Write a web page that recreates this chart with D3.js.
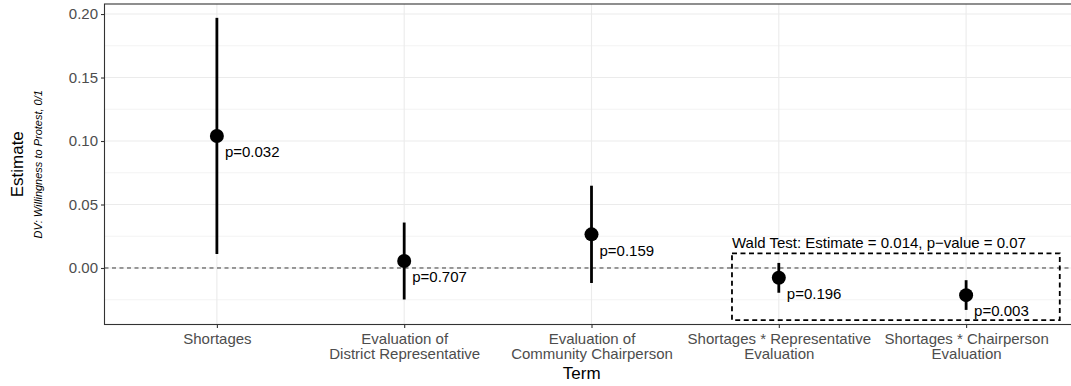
<!DOCTYPE html>
<html>
<head>
<meta charset="utf-8">
<script src="https://cdn.jsdelivr.net/npm/d3@7"></script>
<style>
  html, body { margin: 0; padding: 0; background: #fff; }
  svg { display: block; font-family: "Liberation Sans", Arial, sans-serif; }
</style>
</head>
<body>
<svg id="chart" width="1071" height="386"></svg>
<script>
// Coefficient estimates with 95% intervals, one row per model term
const terms = [
  "Shortages",
  "Evaluation of\nDistrict Representative",
  "Evaluation of\nCommunity Chairperson",
  "Shortages * Representative\nEvaluation",
  "Shortages * Chairperson\nEvaluation"
];
const estimates = [0.104, 0.0055, 0.0265, -0.0077, -0.0214];
const lower     = [0.011, -0.0248, -0.0118, -0.0195, -0.0330];
const upper     = [0.197, 0.0358, 0.0648, 0.0040, -0.0096];
const pLabels   = ["p=0.032", "p=0.707", "p=0.159", "p=0.196", "p=0.003"];

const yTicks = [0.00, 0.05, 0.10, 0.15, 0.20];
const yMinorTicks = [-0.025, 0.025, 0.075, 0.125, 0.175];

// Joint test of the two interaction terms
const waldLabel = "Wald Test: Estimate = 0.014, p\u2212value = 0.07";
const waldLabelY = 0.02;
const waldBoxY = [-0.041, 0.0115];

const svg = d3.select("#chart");
const panel = { left: 104.5, top: 4, right: 1078.5, bottom: 324.5 };

const x = d3.scalePoint()
  .domain(terms)
  .range([panel.left, panel.right])
  .padding(0.6);
const step = x.step();

const y = d3.scaleLinear()
  .domain([-0.0445, 0.2079])
  .range([panel.bottom, panel.top]);

const pw = panel.right - panel.left, ph = panel.bottom - panel.top;

// Grid
const grid = svg.append("g");
grid.selectAll("line.minor").data(yMinorTicks).join("line")
  .attr("x1", panel.left).attr("x2", panel.right)
  .attr("y1", d => y(d)).attr("y2", d => y(d))
  .attr("stroke", "#EBEBEB").attr("stroke-width", 0.6);
grid.selectAll("line.major").data(yTicks).join("line")
  .attr("x1", panel.left).attr("x2", panel.right)
  .attr("y1", d => y(d)).attr("y2", d => y(d))
  .attr("stroke", "#EBEBEB").attr("stroke-width", 1.1);
grid.selectAll("line.vx").data(terms).join("line")
  .attr("x1", d => x(d)).attr("x2", d => x(d))
  .attr("y1", panel.top).attr("y2", panel.bottom)
  .attr("stroke", "#EBEBEB").attr("stroke-width", 1.1);

// Reference line at zero
svg.append("line")
  .attr("x1", panel.left).attr("x2", panel.right)
  .attr("y1", y(0)).attr("y2", y(0))
  .attr("stroke", "#3a3a3a").attr("stroke-width", 1)
  .attr("stroke-dasharray", "4,3.5");

// Box around the interaction terms
const xBox0 = x(terms[3]) - 0.25 * step;
const xBox1 = x(terms[4]) + 0.5 * step;
svg.append("rect")
  .attr("x", xBox0).attr("y", y(waldBoxY[1]))
  .attr("width", xBox1 - xBox0)
  .attr("height", y(waldBoxY[0]) - y(waldBoxY[1]))
  .attr("fill", "none").attr("stroke", "#000")
  .attr("stroke-width", 1.8).attr("stroke-dasharray", "5,3.5");

svg.append("text")
  .attr("x", xBox0).attr("y", y(waldLabelY))
  .attr("dy", "0.35em")
  .attr("font-size", 15).attr("fill", "#000")
  .text(waldLabel);

// Intervals and points
const rows = terms.map((t, i) => ({ term: t, est: estimates[i], lo: lower[i], hi: upper[i], p: pLabels[i] }));

svg.append("g").selectAll("line").data(rows).join("line")
  .attr("x1", d => x(d.term)).attr("x2", d => x(d.term))
  .attr("y1", d => y(d.lo)).attr("y2", d => y(d.hi))
  .attr("stroke", "#000").attr("stroke-width", 2.8);

svg.append("g").selectAll("circle").data(rows).join("circle")
  .attr("cx", d => x(d.term)).attr("cy", d => y(d.est))
  .attr("r", 7).attr("fill", "#000");

svg.append("g").selectAll("text").data(rows).join("text")
  .attr("x", d => x(d.term) + 8).attr("y", d => y(d.est) + 16)
  .attr("dy", "0.35em")
  .attr("font-size", 15).attr("fill", "#000")
  .text(d => d.p);

// Panel border
svg.append("rect")
  .attr("x", panel.left).attr("y", panel.top)
  .attr("width", pw).attr("height", ph)
  .attr("fill", "none").attr("stroke", "#333").attr("stroke-width", 1.1);

// Y axis
const yAxis = svg.append("g")
  .attr("transform", `translate(${panel.left},0)`)
  .call(d3.axisLeft(y).tickValues(yTicks).tickFormat(d3.format(".2f")).tickSize(3.5).tickPadding(3));
yAxis.select(".domain").remove();
yAxis.selectAll(".tick line").attr("stroke", "#333").attr("stroke-width", 1.1);
yAxis.selectAll(".tick text").attr("fill", "#4D4D4D").attr("font-size", 15)
  .attr("font-family", "Liberation Sans, Arial, sans-serif");

// X axis
const xAxis = svg.append("g")
  .attr("transform", `translate(0,${panel.bottom})`)
  .call(d3.axisBottom(x).tickSize(3.5).tickFormat(""));
xAxis.select(".domain").remove();
xAxis.selectAll(".tick line").attr("stroke", "#333").attr("stroke-width", 1.1);
xAxis.selectAll(".tick").each(function(d) {
  const lines = d.split("\n");
  const t = d3.select(this).append("text")
    .attr("fill", "#4D4D4D").attr("font-size", 15)
    .attr("text-anchor", "middle");
  lines.forEach((ln, i) => {
    t.append("tspan").attr("x", 0).attr("y", 14 + i * 15).attr("dy", "0.35em").text(ln);
  });
});

// Axis titles
svg.append("text")
  .attr("x", (panel.left + 1071) / 2 - 6).attr("y", 373).attr("dy", "0.35em")
  .attr("text-anchor", "middle").attr("font-size", 17).attr("fill", "#000")
  .text("Term");

const yMid = (panel.top + panel.bottom) / 2;
svg.append("text")
  .attr("transform", `translate(17,${yMid}) rotate(-90)`)
  .attr("dy", "0.35em")
  .attr("text-anchor", "middle").attr("font-size", 17).attr("fill", "#000")
  .text("Estimate");
svg.append("text")
  .attr("transform", `translate(38,${yMid}) rotate(-90)`)
  .attr("dy", "0.35em")
  .attr("text-anchor", "middle").attr("font-size", 11).attr("font-style", "italic").attr("fill", "#000")
  .text("DV: Willingness to Protest, 0/1");
</script>
</body>
</html>
